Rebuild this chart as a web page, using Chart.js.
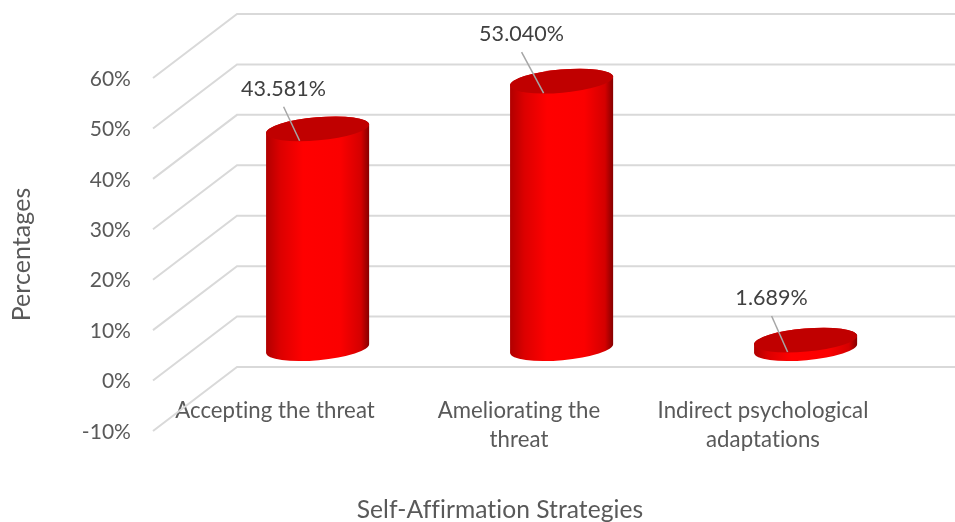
<!DOCTYPE html>
<html>
<head>
<meta charset="utf-8">
<style>
    html, body { margin: 0; padding: 0; background: #fff; overflow: hidden; }
    #wrap { width: 955px; height: 522px; }
</style>
<script src="https://cdn.jsdelivr.net/npm/chart.js@4/dist/chart.umd.min.js"></script>
</head>
<body>
<div id="wrap"><canvas id="chart"></canvas></div>
<script>
const categories = [
    "Accepting the threat",
    ["Ameliorating the", "threat"],
    ["Indirect psychological", "adaptations"],
];
const percentages = [43.581, 53.04, 1.689];
const yMin = -10;
const yMax = 60;
const yStep = 10;

const xTitle = "Self-Affirmation Strategies";
const yTitle = "Percentages";
const fontName = "Lato, 'Open Sans', sans-serif";

// depth of the fake 3d box, front plane to back wall
const depthX = 84;
const depthY = 64;

const boxPlugin = {
    id: "box3d",
    beforeDraw(chart) {
        // tiny spacing switches off the Lato ligatures
        chart.ctx.letterSpacing = "0.05px";
    },
    beforeDatasetsDraw(chart) {
        const ctx = chart.ctx;
        const y = chart.scales.y;
        const area = chart.chartArea;
        ctx.save();
        ctx.strokeStyle = "#d9d9d9";
        ctx.lineWidth = 2;
        y.ticks.forEach((tick) => {
            const py = y.getPixelForValue(tick.value);
            ctx.beginPath();
            ctx.moveTo(area.left, py);
            ctx.lineTo(area.left + depthX, py - depthY);
            ctx.lineTo(area.right + depthX, py - depthY);
            ctx.stroke();
        });
        ctx.restore();
    },
    afterDatasetsDraw(chart) {
        const ctx = chart.ctx;
        const bars = chart.getDatasetMeta(0).data;
        bars.forEach((bar, i) => {
            const cx = bar.x + depthX / 2 + 0.6;
            const top = bar.y - depthY / 2;
            const base = bar.base - depthY / 2;
            const a = bar.width / 2;
            const b = 11.6;
            const rot = (-5 * Math.PI) / 180;

            const grad = ctx.createLinearGradient(cx - a, 0, cx + a, 0);
            grad.addColorStop(0, "#b00000");
            grad.addColorStop(0.14, "#dc0000");
            grad.addColorStop(0.36, "#ff0000");
            grad.addColorStop(0.72, "#fb0000");
            grad.addColorStop(0.92, "#d40000");
            grad.addColorStop(1, "#840000");

            ctx.save();
            ctx.fillStyle = grad;
            ctx.beginPath();
            ctx.ellipse(cx, base, a, b, rot, 0, Math.PI);
            ctx.ellipse(cx, top, a, b, rot, Math.PI, 0);
            ctx.closePath();
            ctx.fill();

            ctx.fillStyle = "#c00000";
            ctx.beginPath();
            ctx.ellipse(cx, top, a, b, rot, 0, Math.PI * 2);
            ctx.fill();

            // label and its leader line
            const labelX = cx - 34 - (i === 1 ? 6 : 0);
            const labelY = top - 41 - (i === 1 ? 7 : 0) - (i === 2 ? 2 : 0);
            ctx.strokeStyle = "#a6a6a6";
            ctx.lineWidth = 1.5;
            ctx.beginPath();
            ctx.moveTo(labelX, labelY + 19);
            ctx.lineTo(cx - 18, top + 12);
            ctx.stroke();

            ctx.fillStyle = "#404040";
            ctx.font = "21.5px " + fontName;
            ctx.textAlign = "center";
            ctx.textBaseline = "middle";
            ctx.fillText(percentages[i].toFixed(3) + "%", labelX, labelY + 1);
            ctx.restore();
        });
    },
    afterDraw(chart) {
        const ctx = chart.ctx;
        ctx.save();
        ctx.fillStyle = "#595959";
        ctx.font = "24.6px " + fontName;
        ctx.textAlign = "center";
        ctx.textBaseline = "middle";
        ctx.fillText(xTitle, 500, 510);
        ctx.restore();
    },
};

new Chart(document.querySelector("#chart"), {
    type: "bar",
    data: {
        labels: categories,
        datasets: [
            {
                label: "Percentages",
                data: percentages,
                backgroundColor: "rgba(0,0,0,0)",
                barPercentage: 0.424,
                categoryPercentage: 1,
            },
        ],
    },
    options: {
        responsive: true,
        maintainAspectRatio: false,
        animation: false,
        layout: {
            padding: { top: 78, right: 70, bottom: 91, left: 0 },
        },
        plugins: {
            legend: { display: false },
            tooltip: { enabled: false },
        },
        scales: {
            x: {
                position: { y: 0 },
                grid: { display: false, drawTicks: false },
                border: { display: false },
                ticks: {
                    color: "#595959",
                    font: { family: fontName, size: 22.2, lineHeight: 1.3 },
                    padding: 16,
                    maxRotation: 0,
                    autoSkip: false,
                },
            },
            y: {
                min: yMin,
                max: yMax,
                grid: { display: false, drawTicks: false },
                border: { display: false },
                ticks: {
                    stepSize: yStep,
                    color: "#595959",
                    font: { family: fontName, size: 21 },
                    padding: 22,
                    labelOffset: 1,
                    callback: (value) => value + "%",
                },
                title: {
                    display: true,
                    text: yTitle,
                    color: "#595959",
                    font: { family: fontName, size: 25 },
                    padding: { top: 7, bottom: 0 },
                },
                afterFit(scale) {
                    scale.width = 153;
                },
            },
        },
    },
    plugins: [boxPlugin],
});
</script>
</body>
</html>
